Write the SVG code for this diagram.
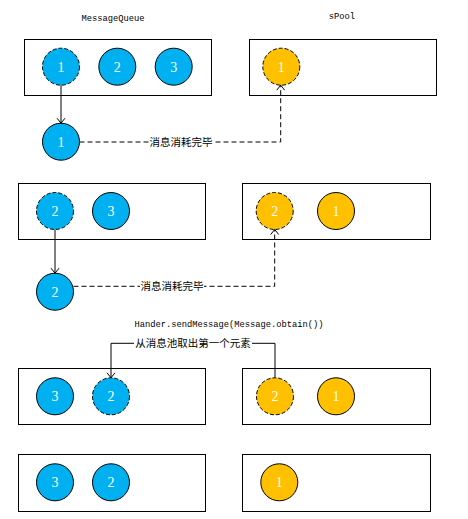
<svg xmlns="http://www.w3.org/2000/svg" width="468" height="519" viewBox="0 0 468 519">
<style>
.box{fill:#fff;stroke:#000;stroke-width:1}
.b{fill:#00B0F0;stroke:#000;stroke-width:1}
.y{fill:#FFC000;stroke:#000;stroke-width:1}
.d{stroke-dasharray:4 2}
.num{font-family:"Liberation Serif",serif;font-size:14px;fill:#fff;text-anchor:middle}
.mono{font-family:"Liberation Mono",monospace;font-size:8.75px;fill:#000;text-anchor:middle}
.cjk{font-family:"Liberation Sans","Noto Sans CJK SC",sans-serif;font-size:10.5px;fill:#000;text-anchor:middle}
.c{fill:none;stroke:#000;stroke-width:1}
.dash{stroke-dasharray:5 3}
</style>
<defs>
<marker id="arr" markerWidth="10" markerHeight="10" refX="9" refY="5" orient="auto" markerUnits="userSpaceOnUse" viewBox="0 0 10 10">
<path d="M4,1 L9,5 L4,9" fill="none" stroke="#000" stroke-width="1"/>
</marker>
</defs>
<rect width="468" height="519" fill="#fff"/>
<text class="mono" x="113" y="21">MessageQueue</text>
<text class="mono" x="342" y="19">sPool</text>
<text class="mono" x="229" y="327">Hander.sendMessage(Message.obtain())</text>

<g id="mq1">
<rect class="box" x="24.5" y="39.5" width="187" height="56"/>
<circle class="b d" cx="61" cy="66.7" r="18.5"/><text class="num" x="61" y="71.5">1</text>
<circle class="b" cx="117.3" cy="66.7" r="18.5"/><text class="num" x="117.3" y="71.5">2</text>
<circle class="b" cx="173.7" cy="66.7" r="18.5"/><text class="num" x="173.7" y="71.5">3</text>
</g>
<g id="pool1">
<rect class="box" x="249.5" y="39.5" width="187" height="56"/>
<circle class="y d" cx="281.3" cy="66.7" r="18.5"/><text class="num" x="281.3" y="71.5">1</text>
</g>
<g id="msg1">
<circle class="b" cx="61" cy="141.7" r="18.5"/><text class="num" x="61" y="146.5">1</text>
</g>

<g id="mq2">
<rect class="box" x="18.5" y="183.5" width="187" height="56"/>
<circle class="b d" cx="55" cy="211" r="18.5"/><text class="num" x="55" y="216">2</text>
<circle class="b" cx="111" cy="211" r="18.5"/><text class="num" x="111" y="216">3</text>
</g>
<g id="pool2">
<rect class="box" x="242.5" y="183.5" width="188" height="56"/>
<circle class="y d" cx="274.7" cy="211" r="18.5"/><text class="num" x="274.7" y="216">2</text>
<circle class="y" cx="336" cy="211" r="18.5"/><text class="num" x="336" y="216">1</text>
</g>
<g id="msg2">
<circle class="b" cx="55" cy="291.7" r="18.5"/><text class="num" x="55" y="296.5">2</text>
</g>

<g id="mq3">
<rect class="box" x="18.5" y="368.5" width="187" height="56"/>
<circle class="b" cx="55" cy="396.3" r="18.5"/><text class="num" x="55" y="401">3</text>
<circle class="b d" cx="111" cy="396.3" r="18.5"/><text class="num" x="111" y="401">2</text>
</g>
<g id="pool3">
<rect class="box" x="242.5" y="368.5" width="188" height="56"/>
<circle class="y d" cx="275" cy="396.3" r="18.5"/><text class="num" x="275" y="401">2</text>
<circle class="y" cx="336" cy="396.3" r="18.5"/><text class="num" x="336" y="401">1</text>
</g>

<g id="mq4">
<rect class="box" x="18.5" y="454.5" width="187" height="57"/>
<circle class="b" cx="55" cy="482.3" r="18.5"/><text class="num" x="55" y="487">3</text>
<circle class="b" cx="111" cy="482.3" r="18.5"/><text class="num" x="111" y="487">2</text>
</g>
<g id="pool4">
<rect class="box" x="242.5" y="454.5" width="188" height="57"/>
<circle class="y" cx="279.3" cy="482.3" r="18.5"/><text class="num" x="279.3" y="487">1</text>
</g>

<g id="connectors">
<path class="c" d="M61,85.2 V123.2" marker-end="url(#arr)"/>
<path class="c dash" d="M79.5,142 H280.7 V85.2" marker-end="url(#arr)"/>
<path class="c" d="M55,229.5 V273.2" marker-end="url(#arr)"/>
<path class="c dash" d="M73.5,286.3 H274.7 V229.5" marker-end="url(#arr)"/>
<path class="c" d="M275,377.8 V343.3 H111 V377.8" marker-end="url(#arr)"/>
<rect x="149" y="135" width="64" height="13" fill="#fff"/>
<text class="cjk" x="181" y="145.5">消息消耗完毕</text>
<rect x="140" y="279" width="64" height="13" fill="#fff"/>
<text class="cjk" x="172" y="290">消息消耗完毕</text>
<rect x="134" y="336" width="118" height="13" fill="#fff"/>
<text class="cjk" x="193" y="347">从消息池取出第一个元素</text>
</g>
</svg>
